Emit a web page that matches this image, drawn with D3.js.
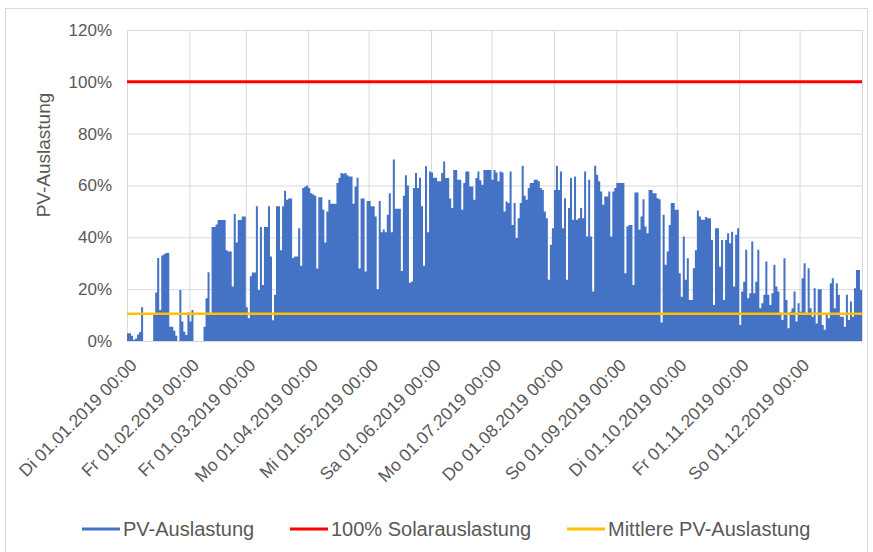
<!DOCTYPE html>
<html>
<head>
  <meta charset="utf-8">
  <script src="https://d3js.org/d3.v7.min.js"></script>
  <style>
    body { margin: 0; background: #fff; }
    text { font-family: "Liberation Sans", Arial, sans-serif; fill: #595959; }
    .gridlines line { stroke: #d9d9d9; stroke-width: 1; }
    .gridlines .domain { stroke: none; }
    .axis .domain { stroke: none; }
  </style>
</head>
<body>
  <svg id="chart" width="873" height="552"></svg>

  <script>
    // daily peak PV utilisation in %
    const jan = [3, 3, 2, 0.5, 1, 2.5, 3.5, 13, 0, 0, 0, 0, 0, 10, 18.7, 32, 12, 33, 33.5, 34, 34, 5.5, 5.5, 4, 2, 0, 19.7, 7.5, 3.6, 2.3, 11];
    const feb = [7.5, 12, 0, 0, 0, 0, 0, 5.5, 16.5, 26.5, 10.7, 44, 44, 45, 46.7, 46.7, 46.7, 46.7, 35, 34.5, 34.5, 21, 49, 38, 46.7, 46.7, 48, 48];
    const mar = [13, 8.8, 25, 26.4, 26.4, 52, 19.7, 44, 21.6, 44, 44, 52, 32.6, 8, 17.8, 52, 52, 35, 52, 58, 54.5, 55, 55, 32, 32.6, 32.6, 43.5, 29, 59, 59.5, 60];
    const apr = [59, 57, 56.5, 56, 28, 55.5, 55.5, 50.6, 38, 50, 54.5, 53, 53, 53, 61, 63, 64.8, 64.5, 64.8, 64, 63.5, 63.5, 53, 59.6, 63, 28, 55, 55, 26.8, 54];
    const may = [54, 52, 52, 48, 20, 54, 42, 43, 42, 48.7, 57, 42, 70, 51, 51, 51, 27, 56, 64, 60, 22.5, 23, 59, 64.8, 59, 63, 52, 29, 67.4, 42, 65.4];
    const jun = [65, 63, 63, 61.6, 61.6, 64.8, 69.3, 62.9, 62.9, 55, 51.3, 66, 66, 62.2, 62.2, 50.6, 61, 65.4, 65.4, 59.6, 59.6, 54.5, 62.9, 65.4, 62, 60.3, 66, 66, 66, 66];
    const jul = [62.2, 66, 65, 61.6, 65.4, 65, 50, 53.8, 53.2, 65.4, 44.8, 53.2, 39.7, 47.4, 53.2, 67.6, 56, 54.5, 59, 61, 61, 62.2, 62.2, 61.6, 59, 58.3, 50, 47.4, 23.6, 37.1, 43.5];
    const aug = [58.3, 67.6, 58.3, 65.4, 43.5, 55.1, 23.6, 51.3, 62.9, 46.8, 63.5, 46.8, 47.4, 51.3, 47.4, 65.4, 40.3, 62.2, 40.3, 19.1, 67.6, 64.1, 61.6, 57.7, 52.6, 55.8, 55.8, 57.7, 40.3, 57.7, 59];
    const sep = [61, 61, 61, 61, 26.1, 44.2, 44.8, 44.8, 21.6, 57.3, 57.3, 42.9, 48, 54.7, 44.2, 41.6, 58.3, 58.3, 57, 57, 55.1, 54.7, 7.1, 48.7, 29.4, 34.5, 44.8, 53.2, 53.2, 50.6];
    const oct = [50.6, 26.1, 17.1, 40.3, 23.6, 31.9, 15.8, 15.8, 28.1, 35, 50.4, 48, 46.8, 46.8, 47.8, 47.4, 47.4, 39, 13.9, 43.5, 43.5, 28.7, 39, 15.8, 39, 41.6, 37.7, 42.2, 21, 41, 43.5];
    const nov = [6.2, 19.1, 22.9, 35.2, 16.5, 18.4, 38.4, 18.4, 22.9, 35.2, 12.6, 14.6, 17.8, 30.7, 17.8, 13.9, 18.4, 29.4, 21, 19.1, 10.9, 8.1, 31.9, 15.8, 4.9, 11.3, 12.6, 19.1, 7.5, 14.6];
    const dec = [11.3, 24.2, 30, 10.7, 28.1, 12.6, 9.4, 20.4, 6.8, 20, 20, 6.2, 4.3, 10, 8.8, 22.3, 24.2, 12.6, 22.3, 17.8, 9.4, 9.4, 5.5, 17.8, 8.1, 15.2, 9.4, 20.4, 27.4, 27.4, 19.7];

    const fullLoad = 100;   // 100% Solarauslastung
    const meanLoad = 10.5;  // Mittlere PV-Auslastung

    const monthStarts = ['2019-01-01', '2019-02-01', '2019-03-01', '2019-04-01', '2019-05-01', '2019-06-01',
      '2019-07-01', '2019-08-01', '2019-09-01', '2019-10-01', '2019-11-01', '2019-12-01'];
    const monthLabels = ['Di 01.01.2019 00:00', 'Fr 01.02.2019 00:00', 'Fr 01.03.2019 00:00', 'Mo 01.04.2019 00:00',
      'Mi 01.05.2019 00:00', 'Sa 01.06.2019 00:00', 'Mo 01.07.2019 00:00', 'Do 01.08.2019 00:00',
      'So 01.09.2019 00:00', 'Di 01.10.2019 00:00', 'Fr 01.11.2019 00:00', 'So 01.12.2019 00:00'];
    const yTicks = [0, 20, 40, 60, 80, 100, 120];
    const seriesNames = ['PV-Auslastung', '100% Solarauslastung', 'Mittlere PV-Auslastung'];
    const seriesColors = ['#4472c4', '#ff0000', '#ffc000'];

    const svg = d3.select('svg#chart');
    const width = +svg.attr('width');
    const height = +svg.attr('height');
    const margins = { top: 30, right: 11, bottom: 211, left: 127 };
    const chartWidth = width - margins.left - margins.right;
    const chartHeight = height - margins.top - margins.bottom;

    // outer frame of the chart
    svg.append('rect')
      .attr('x', 5.5).attr('y', 8.5)
      .attr('width', 862).attr('height', 560)
      .attr('fill', 'none')
      .attr('stroke', '#d9d9d9');

    const chartArea = svg.append('g')
      .attr('transform', `translate(${margins.left},${margins.top})`);

    const yearStart = new Date(Date.UTC(2019, 0, 1));
    const yearEnd = new Date(Date.UTC(2020, 0, 1));
    const days = d3.utcDay.range(yearStart, yearEnd);
    const values = [].concat(jan, feb, mar, apr, may, jun, jul, aug, sep, oct, nov, dec);
    const data = days.map((d, i) => ({ date: d, value: values[i] }));
    data.push({ date: yearEnd, value: values[values.length - 1] });

    const monthDates = monthStarts.map(s => new Date(s + 'T00:00:00Z'));

    const xScale = d3.scaleUtc()
      .domain([yearStart, yearEnd])
      .range([0, chartWidth]);

    const yScale = d3.scaleLinear()
      .domain([0, 120])
      .range([chartHeight, 0]);

    // gridlines
    chartArea.append('g')
      .attr('class', 'gridlines')
      .attr('transform', `translate(0,${chartHeight})`)
      .call(d3.axisBottom(xScale)
        .tickValues(monthDates.concat([yearEnd]))
        .tickSize(-chartHeight)
        .tickFormat(''));

    chartArea.append('g')
      .attr('class', 'gridlines')
      .call(d3.axisLeft(yScale)
        .tickValues(yTicks)
        .tickSize(-chartWidth)
        .tickFormat(''));

    // PV utilisation area
    chartArea.append('path')
      .datum(data)
      .attr('fill', seriesColors[0])
      .attr('stroke', 'none')
      .attr('d', d3.area()
        .curve(d3.curveStepAfter)
        .x(d => xScale(d.date))
        .y0(yScale(0))
        .y1(d => yScale(d.value)));

    // reference lines
    chartArea.append('line')
      .attr('x1', 0).attr('x2', chartWidth)
      .attr('y1', yScale(fullLoad)).attr('y2', yScale(fullLoad))
      .attr('stroke', seriesColors[1])
      .attr('stroke-width', 3);

    chartArea.append('line')
      .attr('x1', 0).attr('x2', chartWidth)
      .attr('y1', yScale(meanLoad)).attr('y2', yScale(meanLoad))
      .attr('stroke', seriesColors[2])
      .attr('stroke-width', 2.5);

    // y axis labels
    const leftAxis = chartArea.append('g')
      .attr('class', 'axis')
      .call(d3.axisLeft(yScale)
        .tickValues(yTicks)
        .tickSize(0)
        .tickPadding(15)
        .tickFormat(d => d + '%'));
    leftAxis.selectAll('text')
      .style('font-size', '17px')
      .style('font-family', '"Liberation Sans", Arial, sans-serif')
      .attr('fill', '#595959');

    // x axis labels, rotated
    const bottomAxis = chartArea.append('g')
      .attr('class', 'axis')
      .attr('transform', `translate(0,${chartHeight})`)
      .call(d3.axisBottom(xScale)
        .tickValues(monthDates)
        .tickSize(0)
        .tickFormat((d, i) => monthLabels[i]));
    bottomAxis.selectAll('text')
      .attr('x', 0).attr('y', 0).attr('dy', '0.35em')
      .attr('text-anchor', 'end')
      .attr('transform', 'translate(6,21) rotate(-45)')
      .style('font-size', '17.5px')
      .style('font-family', '"Liberation Sans", Arial, sans-serif')
      .attr('fill', '#595959');

    // y axis title
    svg.append('text')
      .attr('transform', 'translate(50,155) rotate(-90)')
      .attr('text-anchor', 'middle')
      .style('font-size', '19px')
      .text('PV-Auslastung');

    // legend
    const legendX = [82, 290, 567];
    const legend = svg.append('g').attr('transform', 'translate(0,529)');
    seriesNames.forEach((name, i) => {
      legend.append('line')
        .attr('x1', legendX[i]).attr('x2', legendX[i] + 38)
        .attr('y1', 0).attr('y2', 0)
        .attr('stroke', seriesColors[i])
        .attr('stroke-width', 3);
      legend.append('text')
        .attr('x', legendX[i] + 41)
        .attr('y', 7)
        .style('font-size', '20px')
        .text(name);
    });
  </script>
</body>
</html>
